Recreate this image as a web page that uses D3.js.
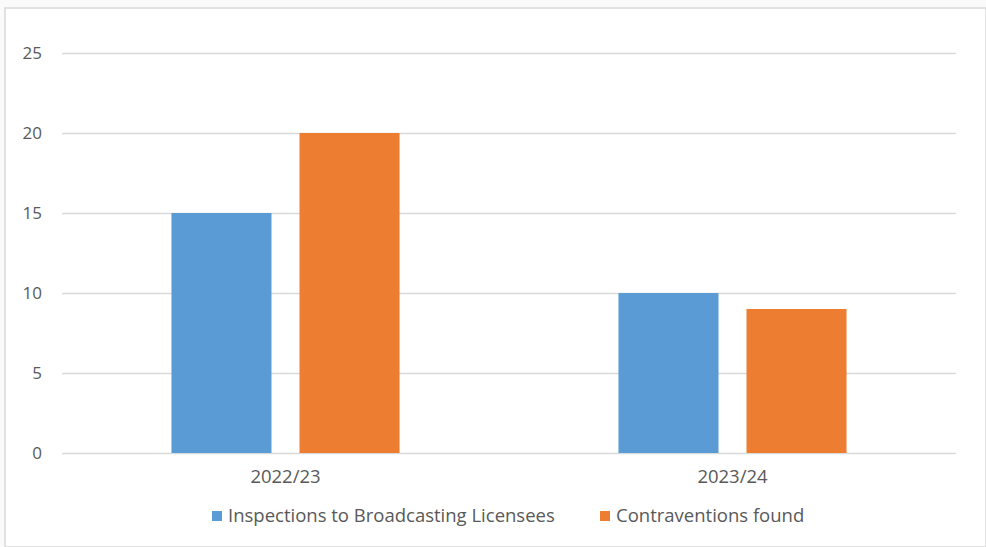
<!DOCTYPE html>
<html><head><meta charset="utf-8">
<script src="https://cdn.jsdelivr.net/npm/d3@7"></script>
<style>
html,body{margin:0;padding:0;background:#fafafa;}
svg{display:block;}
text{font-family:"Open Sans","Liberation Sans",sans-serif;fill:#595959;}
</style></head>
<body>
<script>
const categories = ["2022/23", "2023/24"];
const seriesNames = ["Inspections to Broadcasting Licensees", "Contraventions found"];
const inspections = [15, 10];
const contraventions = [20, 9];
const yTicks = [0, 5, 10, 15, 20, 25];
const colors = ["#5b9bd5", "#ed7d31"];

const W = 986, H = 547;
const svg = d3.select("body").append("svg").attr("width", W).attr("height", H);

svg.append("rect").attr("x", 5).attr("y", 8).attr("width", W - 5).attr("height", H - 8)
  .attr("fill", "#fff").attr("stroke", "#d9d9d9").attr("stroke-width", 1.5);

const mL = 62, mR = 956, mT = 53, mB = 453;
const x = d3.scaleBand().domain(categories).range([mL, mR]);
const x1 = d3.scaleBand().domain(seriesNames).range([0, x.bandwidth()]).paddingInner(0.21875).paddingOuter(0.855);
const y = d3.scaleLinear().domain([0, 25]).range([mB, mT]);

const yAxis = d3.axisLeft(y).tickValues(yTicks).tickSize(-(mR - mL)).tickFormat(d3.format("d"));
const gy = svg.append("g").attr("transform", `translate(${mL},0)`).call(yAxis);
gy.select(".domain").remove();
gy.selectAll(".tick line").attr("stroke", "#d9d9d9").attr("stroke-width", 1.3);
gy.selectAll(".tick text").attr("x", -20).attr("font-size", 17).attr("text-anchor", "end").attr("dx", 0);

const data = categories.map((c, i) => ({cat: c, vals: [inspections[i], contraventions[i]]}));
const groups = svg.append("g").selectAll("g").data(data).join("g")
  .attr("transform", d => `translate(${x(d.cat)},0)`);
groups.selectAll("rect").data(d => d.vals.map((v, j) => ({name: seriesNames[j], v, j})))
  .join("rect")
  .attr("x", d => x1(d.name)).attr("width", x1.bandwidth())
  .attr("y", d => y(d.v)).attr("height", d => y(0) - y(d.v))
  .attr("fill", d => colors[d.j]);

const xAxis = d3.axisBottom(x).tickSize(0).tickPadding(17);
const gx = svg.append("g").attr("transform", `translate(0,${mB})`).call(xAxis);
gx.select(".domain").remove();
gx.selectAll(".tick text").attr("font-size", 18.5);

const legend = svg.append("g").attr("transform", "translate(212,516)");
const legX = [0, 388];
seriesNames.forEach((n, i) => {
  const g = legend.append("g").attr("transform", `translate(${legX[i]},0)`);
  g.append("rect").attr("x", 0).attr("y", -5).attr("width", 10).attr("height", 10).attr("fill", colors[i]);
  g.append("text").attr("x", 16).attr("y", 0).attr("dy", "0.35em").attr("font-size", 18.5).text(n);
});
</script>
</body></html>
